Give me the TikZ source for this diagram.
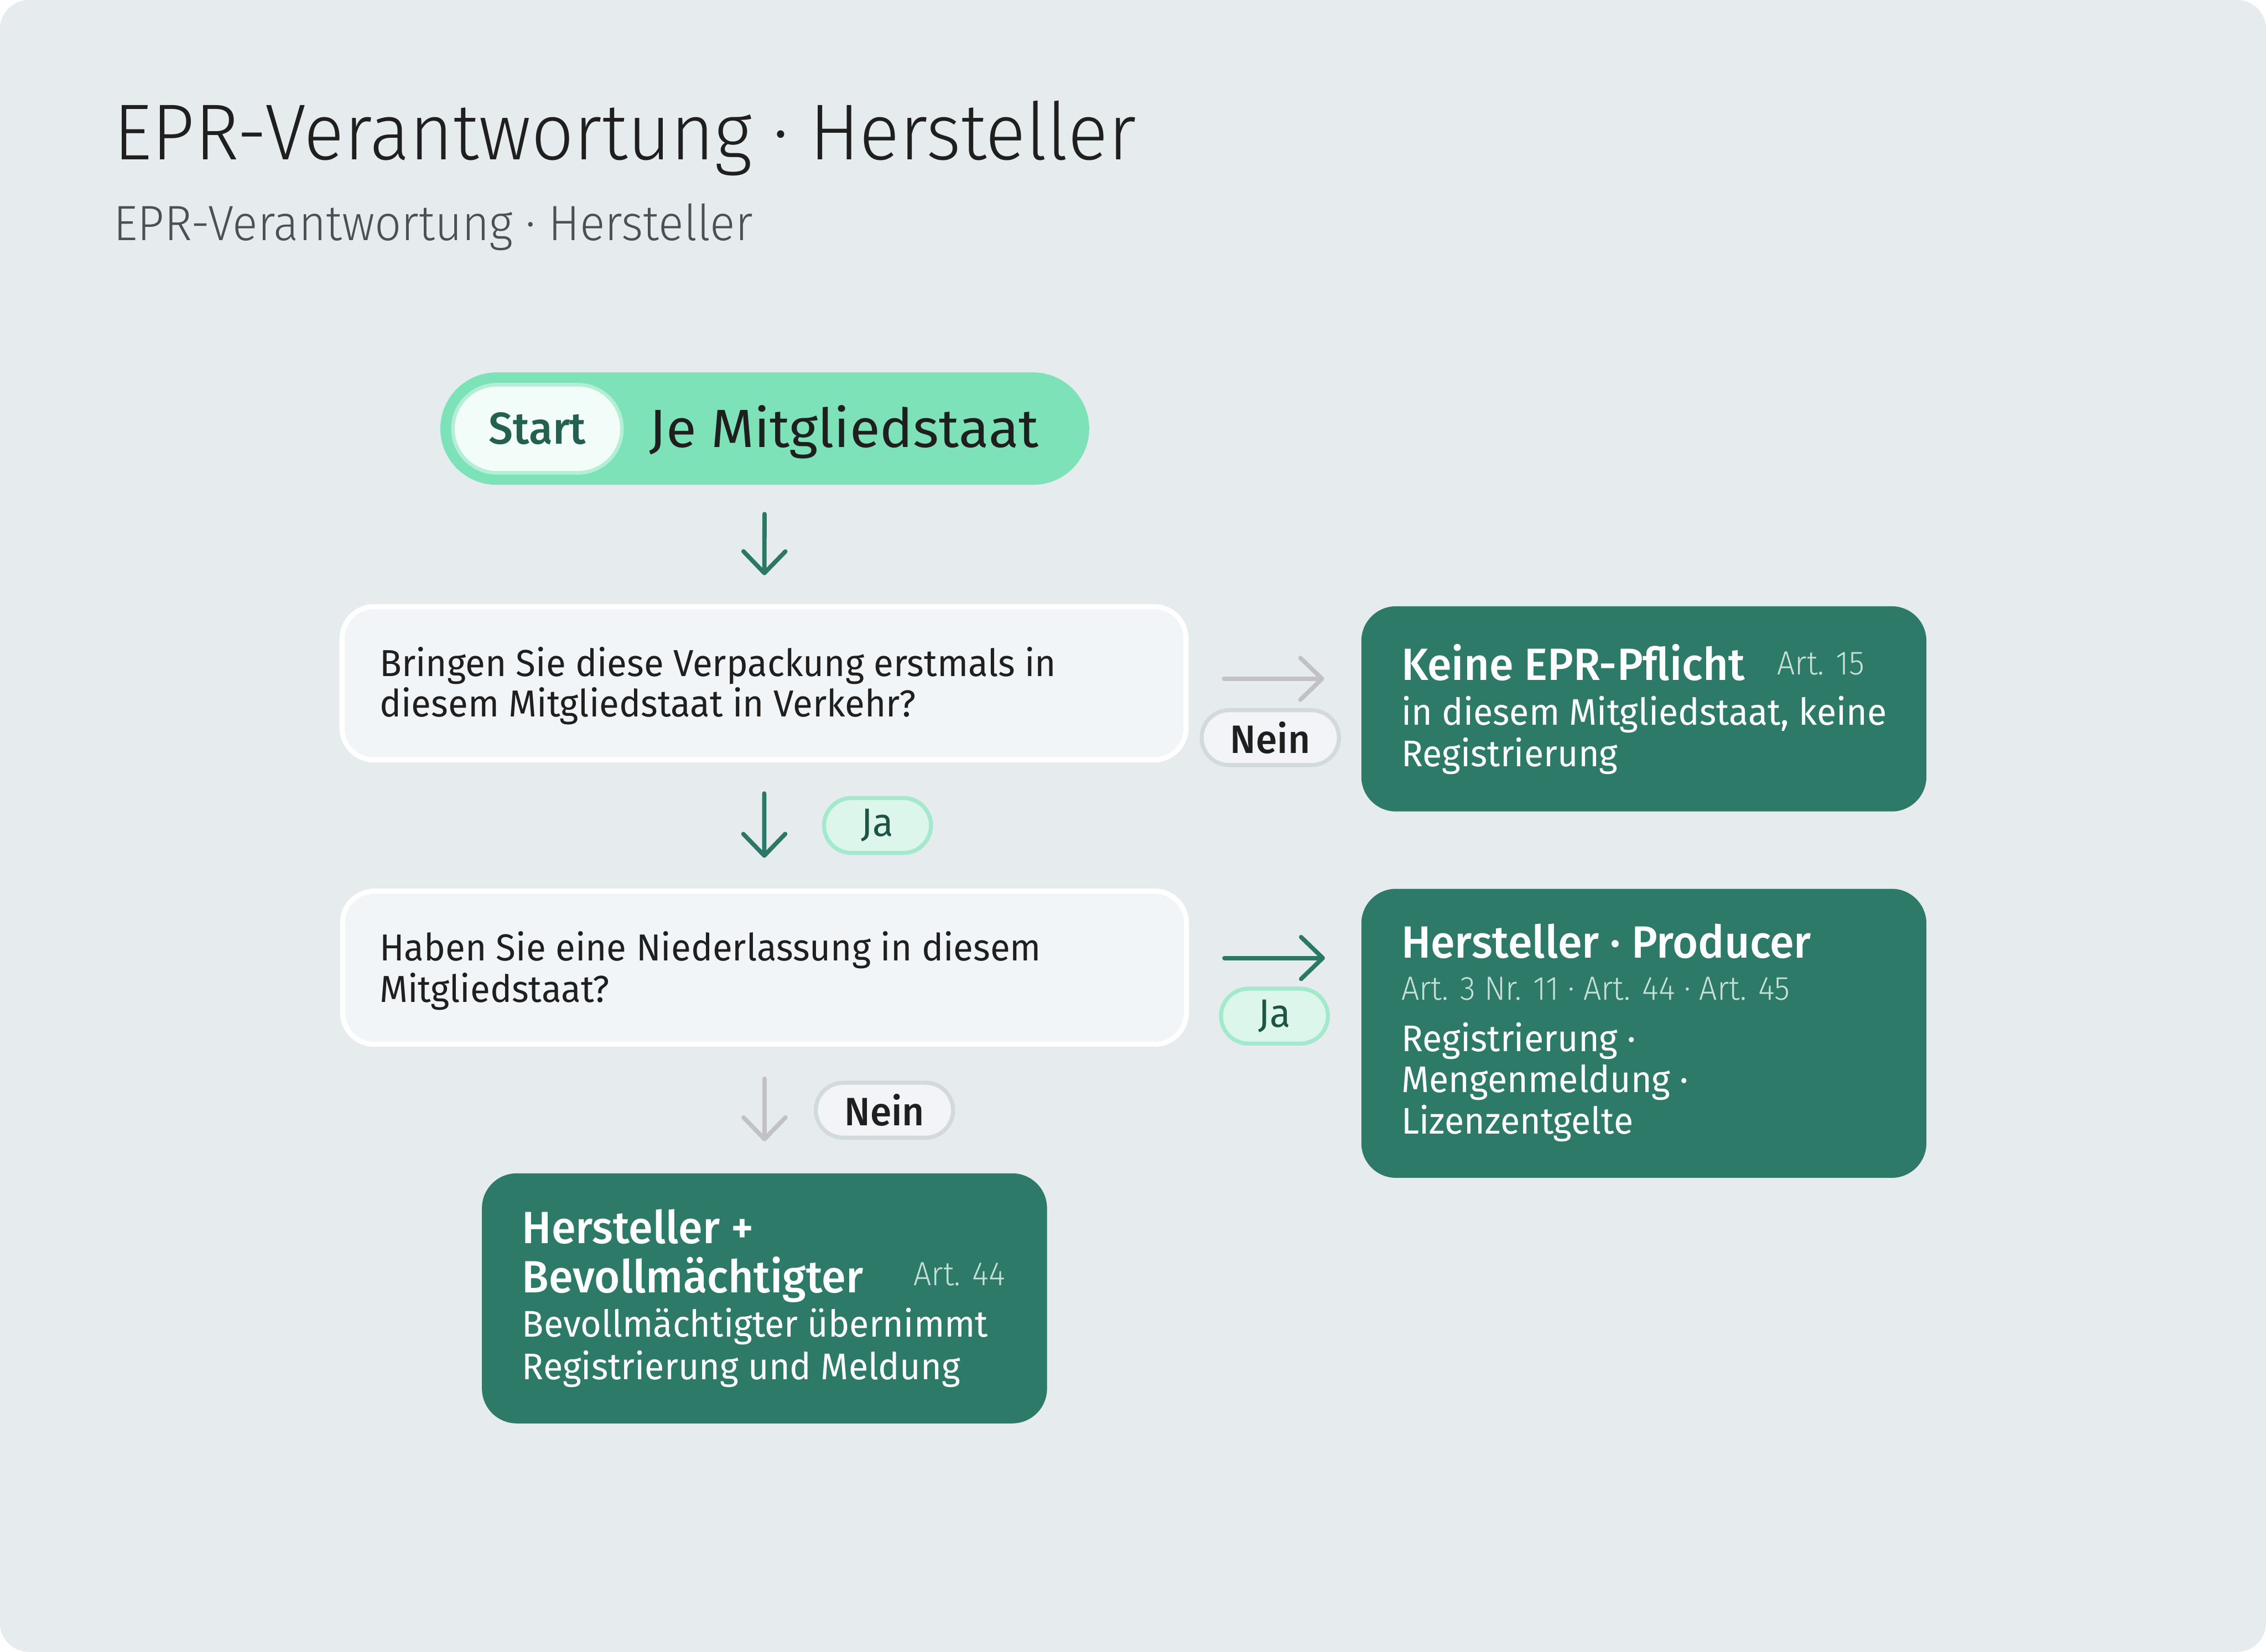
\documentclass[tikz,border=0pt]{standalone}
\usepackage{fontspec}
\setmainfont{Fira Sans}[FakeStretch=0.965]
\newfontfamily\lightfont{Fira Sans Light}[FakeStretch=0.945]
\newfontfamily\medfont{Fira Sans Medium}[FakeStretch=0.97]
\newfontfamily\widefont{Fira Sans}[FakeStretch=1.03]
\usetikzlibrary{arrows.meta}
\definecolor{cCard}{HTML}{E6EBEE}
\definecolor{cInk}{HTML}{1F1F1F}
\definecolor{cSub}{HTML}{4B5055}
\definecolor{cMint}{HTML}{7EE2B8}
\definecolor{cMintPale}{HTML}{F2FCF8}
\definecolor{cMintLine}{HTML}{B3EED6}
\definecolor{cDeep}{HTML}{24604F}
\definecolor{cQFill}{HTML}{F2F5F7}
\definecolor{cRFill}{HTML}{2D7A69}
\definecolor{cArt}{HTML}{C8E0D8}
\definecolor{cGreenArr}{HTML}{2A7865}
\definecolor{cGrayArr}{HTML}{C1C1C6}
\definecolor{cNeinFill}{HTML}{F2F4F7}
\definecolor{cNeinLine}{HTML}{D3DADC}
\definecolor{cJaFill}{HTML}{DDF6EC}
\definecolor{cJaLine}{HTML}{A3E9CD}
\definecolor{cJaText}{HTML}{1E5445}
\newcommand{\fs}[1]{\fontsize{#1}{#1}\selectfont}
\tikzset{
  txt/.style={anchor=base west, inner sep=0pt},
  qtxt/.style={txt, text=cInk, font=\fs{7.4}},
  rhead/.style={txt, text=white, font=\medfont\fs{8.9}},
  rbody/.style={txt, text=white, font=\fs{7.3}},
  rart/.style={txt, text=cArt, font=\lightfont\fs{6.6}},
  qbox/.style={draw=white, line width=1pt, fill=cQFill, rounded corners=2.2mm,
    minimum width=58.4mm, minimum height=10.6mm, inner sep=0pt},
  rbox/.style={fill=cRFill, rounded corners=2.4mm, inner sep=0pt, minimum width=39.1mm},
  neinpill/.style={draw=cNeinLine, fill=cNeinFill, line width=0.8pt, rounded corners=1.9mm,
    minimum width=9.5mm, minimum height=3.8mm, inner sep=0pt, text=cInk, font=\medfont\fs{7.8}},
  japill/.style={draw=cJaLine, fill=cJaFill, line width=0.8pt, rounded corners=1.9mm,
    minimum width=7.4mm, minimum height=3.8mm, inner sep=0pt, text=cJaText, font=\fs{7.8}},
  yesarrow/.style={draw=cGreenArr, line width=0.85pt, line cap=round,
    -{Straight Barb[length=1.5mm, width=2.9mm, round]}},
  noarrow/.style={yesarrow, draw=cGrayArr},
}
\begin{document}
\begin{tikzpicture}[x=0.1mm, y=-0.1mm]
  \useasboundingbox (0,0) rectangle (1568,1143);
  \fill[white] (0,0) rectangle (1568,1143);
  \fill[cCard, rounded corners=2mm] (0,0) rectangle (1568,1143);

  \node[txt, text=cInk, font=\lightfont\fs{15.6}] (T) at (78,110.3) {EPR-Verantwortung · Hersteller};
  \node[txt, text=cSub, font=\lightfont\fs{9.75}] (ST) at (78,166.5) {EPR-Verantwortung · Hersteller};

  \node[fill=cMint, rounded corners=3.89mm, minimum width=44.9mm, minimum height=7.78mm, inner sep=0pt] (S) at (529.2,296.6) {};
  \node[draw=cMintLine, fill=cMintPale, line width=0.7pt, rounded corners=3.05mm, minimum width=11.7mm, minimum height=6.1mm, inner sep=0pt, text=cDeep, font=\medfont\fs{8.8}] (SP) at (371.9,296.7) {Start};
  \node[txt, text=cInk, font=\widefont\fs{10.6}] (SJ) at (448.6,309.5) {Je Mitgliedstaat};

  \node[qbox] (Q1) at (528.7,472.8) {};
  \node[qtxt] (Q1a) at (262,468) {Bringen Sie diese Verpackung erstmals in};
  \node[qtxt] (Q1b) at (262,496) {diesem Mitgliedstaat in Verkehr?};

  \node[qbox] (Q2) at (529,669.6) {};
  \node[qtxt] (Q2a) at (262,664.9) {Haben Sie eine Niederlassung in diesem};
  \node[qtxt] (Q2b) at (262,693.4) {Mitgliedstaat?};

  \node[rbox, minimum height=14.2mm] (R1) at (1137.5,490.5) {};
  \node[rhead] (R1h) at (969,470.8) {Keine EPR-Pflicht};
  \node[rart] (R1r) at (1229,466.7) {Art. 15};
  \node[rbody] (R1a) at (969,501.6) {in diesem Mitgliedstaat, keine};
  \node[rbody] (R1b) at (969,530.3) {Registrierung};

  \node[rbox, minimum height=20mm] (R2) at (1137.5,715) {};
  \node[rhead] (R2h) at (969,662.9) {Hersteller · Producer};
  \node[rart] (R2r) at (969,691.8) {Art. 3 Nr. 11 · Art. 44 · Art. 45};
  \node[rbody] (R2a) at (969,727.5) {Registrierung ·};
  \node[rbody] (R2b) at (969,755.9) {Mengenmeldung ·};
  \node[rbody] (R2c) at (969,784.4) {Lizenzentgelte};

  \node[rbox, minimum height=17.3mm] (R3) at (529,898.4) {};
  \node[rhead] (R3h) at (360.6,860.5) {Hersteller +};
  \node[rhead] (R3i) at (360.6,894.3) {Bevollmächtigter};
  \node[rart] (R3r) at (631.5,889.4) {Art. 44};
  \node[rbody] (R3a) at (360.6,924.9) {Bevollmächtigter übernimmt};
  \node[rbody] (R3b) at (360.6,954.5) {Registrierung und Meldung};

  \draw[yesarrow, shorten <=1.95mm, shorten >=2mm] (S) -- (Q1);
  \draw[yesarrow, shorten <=2.15mm, shorten >=2.13mm] (Q1) -- (Q2);
  \draw[noarrow, shorten <=2.45mm, shorten >=2.5mm] ([yshift=0.31mm]Q1.east) -- ([yshift=0.31mm]Q1.east -| R1.west);
  \draw[yesarrow, shorten <=2.45mm, shorten >=2.45mm] ([yshift=0.67mm]Q2.east) -- ([yshift=0.67mm]Q2.east -| R2.west);
  \draw[noarrow, shorten <=2.2mm, shorten >=2.15mm] (Q2) -- (R3);

  \node[neinpill] (N1) at (879,510.4) {Nein};
  \node[japill] (J1) at (607.2,571.2) {Ja};
  \node[japill] (J2) at (881.9,703.1) {Ja};
  \node[neinpill] (N2) at (612,768.2) {Nein};
\end{tikzpicture}
\end{document}
